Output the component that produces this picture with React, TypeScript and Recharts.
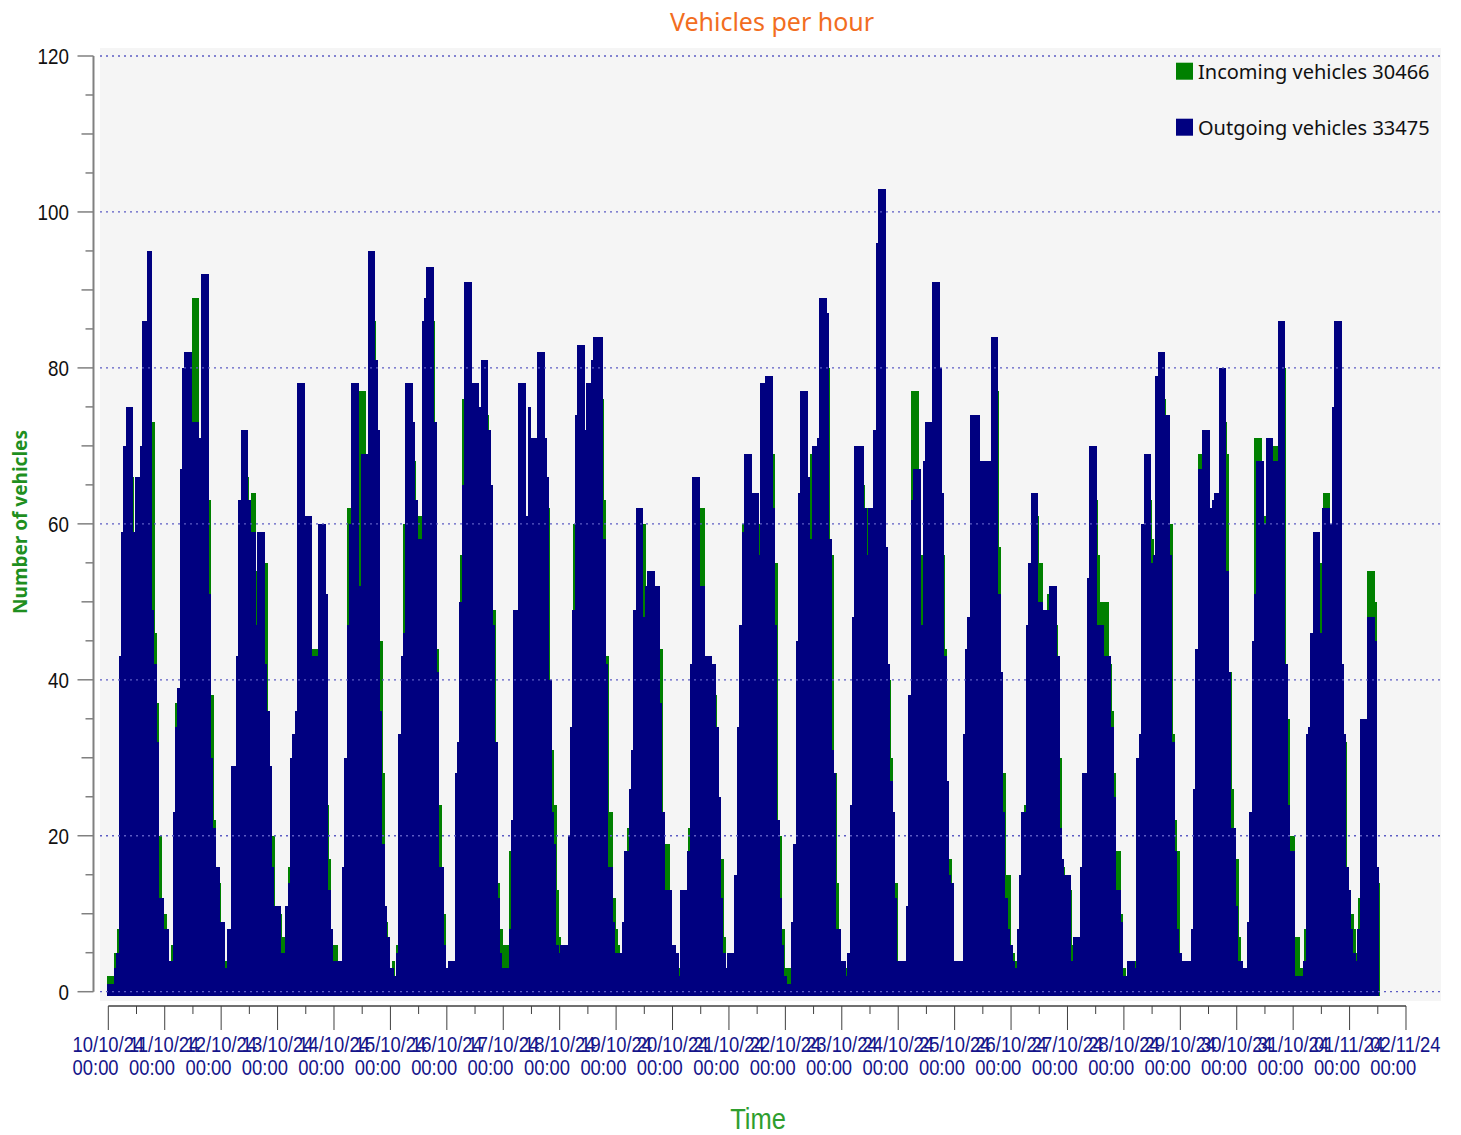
import { BarChart, Bar, XAxis, YAxis, ReferenceLine, CartesianGrid } from "recharts";

// one label per day, 00:00 of each day
const dayLabels = [
  "10/10/24", "11/10/24", "12/10/24", "13/10/24", "14/10/24", "15/10/24",
  "16/10/24", "17/10/24", "18/10/24", "19/10/24", "20/10/24", "21/10/24",
  "22/10/24", "23/10/24", "24/10/24", "25/10/24", "26/10/24", "27/10/24",
  "28/10/24", "29/10/24", "30/10/24", "31/10/24", "01/11/24", "02/11/24",
];

// hourly values, one row per day (last day ends at 12:00)
const outgoing = [
  1, 1, 1, 3, 5, 43, 59, 70, 75, 75, 75, 59, 66, 66, 70, 86, 86, 95, 95, 49, 42, 32, 12, 12,
  8, 8, 4, 4, 23, 34, 39, 67, 80, 82, 82, 82, 73, 73, 73, 71, 92, 92, 92, 51, 30, 21, 16, 16,
  9, 9, 3, 8, 8, 29, 29, 43, 63, 72, 72, 72, 63, 59, 59, 47, 59, 59, 59, 42, 36, 29, 16, 11,
  11, 11, 5, 5, 11, 14, 30, 33, 36, 78, 78, 78, 61, 61, 61, 43, 43, 43, 60, 60, 60, 51, 13, 8,
  4, 4, 4, 4, 16, 30, 47, 60, 78, 78, 78, 52, 69, 69, 69, 95, 95, 95, 81, 72, 36, 19, 11, 7,
  3, 3, 2, 5, 33, 43, 46, 78, 78, 78, 73, 63, 58, 58, 86, 89, 93, 93, 93, 73, 41, 16, 16, 6,
  3, 4, 4, 4, 28, 32, 50, 65, 91, 91, 91, 78, 78, 78, 75, 81, 81, 81, 72, 65, 47, 32, 12, 5,
  3, 3, 3, 8, 22, 49, 49, 78, 78, 78, 61, 75, 71, 71, 71, 82, 82, 82, 71, 66, 40, 23, 19, 6,
  5, 6, 6, 6, 20, 34, 49, 74, 83, 83, 83, 72, 78, 78, 81, 84, 84, 84, 84, 58, 42, 16, 16, 9,
  5, 5, 5, 9, 18, 18, 26, 31, 49, 62, 62, 62, 48, 52, 54, 54, 54, 52, 52, 37, 23, 13, 13, 13,
  6, 6, 5, 2, 13, 13, 13, 18, 42, 66, 66, 66, 52, 52, 43, 43, 43, 42, 42, 34, 25, 12, 5, 3,
  5, 5, 5, 15, 34, 47, 59, 69, 69, 69, 64, 64, 64, 56, 78, 78, 79, 79, 79, 62, 47, 22, 12, 6,
  2, 1, 1, 9, 19, 45, 64, 77, 77, 77, 66, 58, 70, 70, 71, 89, 89, 89, 87, 58, 31, 28, 8, 8,
  4, 4, 2, 5, 24, 48, 70, 70, 70, 70, 62, 56, 62, 62, 72, 96, 103, 103, 103, 57, 42, 27, 23, 12,
  4, 4, 4, 4, 11, 38, 63, 67, 67, 67, 47, 68, 73, 73, 73, 91, 91, 91, 80, 64, 43, 27, 15, 14,
  4, 4, 4, 4, 33, 44, 48, 74, 74, 74, 74, 68, 68, 68, 68, 68, 84, 84, 84, 51, 41, 23, 12, 8,
  6, 4, 3, 8, 15, 23, 23, 47, 55, 64, 64, 64, 50, 50, 49, 49, 49, 52, 52, 52, 43, 21, 17, 15,
  15, 15, 4, 7, 7, 7, 16, 28, 28, 53, 70, 70, 70, 47, 47, 47, 43, 43, 43, 34, 25, 13, 13, 9,
  2, 2, 4, 4, 4, 3, 30, 33, 60, 69, 69, 69, 55, 56, 79, 82, 82, 82, 74, 74, 56, 32, 18, 8,
  5, 4, 4, 4, 4, 8, 26, 44, 67, 67, 72, 72, 72, 62, 63, 64, 64, 80, 80, 80, 54, 41, 21, 21,
  11, 4, 4, 3, 3, 9, 23, 45, 51, 68, 68, 68, 60, 71, 71, 71, 68, 68, 86, 86, 86, 42, 24, 18,
  18, 2, 2, 2, 2, 4, 33, 34, 46, 59, 59, 59, 46, 62, 62, 62, 60, 75, 86, 86, 86, 42, 33, 16,
  13, 8, 5, 4, 8, 35, 35, 35, 48, 48, 48, 45, 16,
];

const incoming = [
  2, 2, 2, 5, 8, 38, 55, 63, 68, 70, 66, 55, 60, 61, 64, 78, 80, 85, 88, 73, 46, 37, 20, 10,
  10, 7, 4, 6, 20, 37, 36, 60, 72, 75, 76, 80, 89, 89, 89, 68, 84, 86, 88, 63, 38, 22, 14, 14,
  8, 8, 4, 6, 7, 26, 27, 40, 58, 66, 68, 66, 60, 64, 64, 54, 55, 56, 57, 55, 34, 26, 20, 10,
  10, 10, 7, 7, 10, 16, 27, 30, 33, 70, 72, 74, 56, 57, 55, 44, 44, 44, 56, 55, 57, 24, 17, 8,
  6, 6, 3, 3, 14, 27, 62, 62, 70, 72, 70, 77, 77, 77, 64, 85, 88, 86, 75, 65, 45, 28, 9, 6,
  3, 4, 2, 6, 30, 40, 60, 70, 72, 74, 68, 58, 61, 61, 78, 82, 85, 87, 86, 66, 44, 24, 14, 10,
  2, 3, 3, 4, 25, 29, 56, 76, 82, 84, 85, 72, 74, 75, 70, 74, 76, 74, 68, 65, 49, 27, 14, 8,
  6, 6, 6, 18, 20, 45, 46, 70, 72, 71, 58, 66, 68, 66, 65, 75, 77, 76, 71, 62, 31, 31, 24, 13,
  7, 5, 5, 5, 10, 30, 60, 73, 76, 78, 80, 68, 72, 74, 75, 78, 80, 79, 76, 63, 43, 23, 23, 12,
  8, 6, 5, 7, 16, 21, 21, 28, 45, 56, 57, 58, 60, 50, 50, 51, 50, 49, 48, 44, 21, 19, 19, 11,
  5, 5, 4, 3, 11, 12, 12, 21, 38, 60, 61, 62, 62, 62, 43, 42, 41, 40, 38, 30, 22, 17, 7, 3,
  4, 4, 5, 12, 30, 43, 60, 62, 64, 63, 58, 60, 59, 60, 72, 74, 73, 75, 74, 69, 55, 20, 20, 8,
  3, 3, 3, 6, 16, 40, 58, 70, 71, 72, 62, 69, 66, 64, 65, 80, 82, 84, 80, 56, 56, 28, 14, 8,
  3, 4, 3, 5, 22, 45, 70, 64, 66, 65, 58, 62, 58, 57, 66, 88, 92, 95, 94, 57, 40, 30, 21, 14,
  4, 3, 4, 4, 10, 38, 77, 77, 77, 60, 56, 62, 66, 67, 68, 82, 84, 86, 74, 56, 44, 27, 17, 12,
  4, 4, 3, 4, 30, 40, 48, 66, 67, 68, 70, 62, 63, 62, 64, 63, 76, 78, 77, 57, 32, 28, 15, 15,
  6, 5, 4, 7, 14, 20, 24, 42, 50, 58, 60, 61, 55, 55, 46, 47, 51, 48, 49, 47, 43, 30, 16, 14,
  14, 13, 6, 6, 6, 7, 14, 25, 26, 48, 62, 64, 63, 56, 50, 50, 50, 50, 42, 36, 28, 18, 18, 10,
  3, 2, 3, 4, 4, 4, 26, 30, 58, 62, 64, 63, 58, 56, 72, 75, 77, 76, 70, 70, 60, 33, 22, 18,
  4, 4, 3, 4, 4, 7, 24, 40, 69, 69, 66, 67, 66, 58, 60, 59, 60, 72, 74, 73, 69, 41, 26, 17,
  17, 7, 3, 3, 3, 6, 22, 41, 71, 71, 71, 64, 61, 66, 65, 64, 70, 70, 78, 79, 80, 40, 35, 20,
  20, 7, 7, 3, 3, 8, 30, 32, 42, 54, 56, 55, 55, 64, 64, 64, 56, 70, 80, 81, 78, 40, 32, 16,
  13, 10, 8, 5, 12, 30, 32, 33, 54, 54, 54, 50, 14,
];

const incomingTotal = 30466;
const outgoingTotal = 33475;

const yTicks = [0, 5, 10, 15, 20, 25, 30, 35, 40, 45, 50, 55, 60, 65, 70, 75, 80, 85, 90, 95, 100, 105, 110, 115, 120];
const gridLines = [0, 20, 40, 60, 80, 100, 120];

const series = [
  { key: "incoming", name: "Incoming vehicles", total: incomingTotal, color: "#008000" },
  { key: "outgoing", name: "Outgoing vehicles", total: outgoingTotal, color: "#000080" },
];

const data = outgoing.map((v, i) => ({ hour: i, incoming: incoming[i], outgoing: v }));

// major tick every day, minor tick at noon
const lastHour = (dayLabels.length - 1) * 24;
const xTicks: number[] = [];
for (let h = 0; h <= lastHour; h += 12) xTicks.push(h);

// axis extents (data units) so the frame lines up with the plot background
const X_MIN = -3.531;
const X_MAX = 566.888;
const Y_MIN = -1.193;
const Y_MAX = 121.026;
const Y_AXIS_AT = -6.3;   // hour value where the vertical axis line sits
const X_AXIS_AT = -1.834; // value where the horizontal axis line sits
const BAR_FLOOR = -0.55;  // bars hang a little below the zero line

const W = 1461;
const H = 1135;

const tickFont = "'Liberation Sans', Arial, sans-serif";
const squeeze = 0.855;

function XTick({ x, y, payload }: any) {
  const h = payload.value as number;
  const major = h % 24 === 0;
  return (
    <g>
      <line x1={x} x2={x} y1={y + 5} y2={y + (major ? 29 : 13)} stroke="#404040" strokeWidth={1} />
      {major && (
        <text
          transform={`translate(${x - 35.7} ${y}) scale(${squeeze} 1)`}
          fontFamily={tickFont}
          fontSize={21.5}
          fill="#15158a"
        >
          <tspan x={0} y={50.7}>{dayLabels[h / 24]}</tspan>
          <tspan x={0} y={73.7}>00:00</tspan>
        </text>
      )}
    </g>
  );
}

function YTick({ x, y, payload }: any) {
  const v = payload.value as number;
  const len = v % 20 === 0 ? 16 : v % 10 === 0 ? 12 : 8;
  const axisX = x - 6.5;
  return (
    <g>
      <line x1={axisX - len} x2={axisX} y1={y} y2={y} stroke="#808080" strokeWidth={1.5} />
      {v % 20 === 0 && (
        <text
          transform={`translate(69 ${y + 7.9}) scale(${squeeze} 1)`}
          textAnchor="end"
          fontFamily={tickFont}
          fontSize={22}
          fill="#111"
        >
          {v}
        </text>
      )}
    </g>
  );
}

function BarShape(props: any) {
  const { x, y, width, height, fill } = props;
  if (!height || height <= 0) return null;
  return <rect x={x} y={y} width={width + 1} height={height} fill={fill} shapeRendering="crispEdges" />;
}

export default function App() {
  return (
    <div style={{ position: "absolute", left: 0, top: 0, width: W, height: H, background: "#fff" }}>
      <BarChart
        width={W}
        height={H}
        data={data}
        margin={{ top: 48, right: 20, bottom: 0, left: 0 }}
        barGap="-100%"
        barCategoryGap={0}
      >
        <CartesianGrid horizontal={false} vertical={false} fill="#f5f5f5" stroke="none" />
        {gridLines.map((v) => (
          <ReferenceLine key={v} y={v} stroke="#5c5cc4" strokeDasharray="2 4" strokeWidth={1.3} />
        ))}
        <XAxis
          type="number"
          dataKey="hour"
          domain={[X_MIN, X_MAX]}
          allowDataOverflow
          ticks={xTicks}
          interval={0}
          tickSize={0}
          tickMargin={0}
          axisLine={false}
          tickLine={false}
          tick={<XTick />}
          height={134}
        />
        <YAxis
          type="number"
          domain={[Y_MIN, Y_MAX]}
          allowDataOverflow
          ticks={yTicks}
          interval={0}
          tickSize={0}
          tickMargin={0}
          axisLine={false}
          tickLine={false}
          tick={<YTick />}
          width={100}
        />
        {series.map((s) => (
          <Bar
            key={s.key}
            name={s.name}
            dataKey={(d: any) => [BAR_FLOOR, d[s.key]]}
            fill={s.color}
            isAnimationActive={false}
            shape={<BarShape />}
          />
        ))}
        <ReferenceLine
          segment={[{ x: Y_AXIS_AT, y: 0 }, { x: Y_AXIS_AT, y: 120 }]}
          ifOverflow="visible"
          stroke="#808080"
          strokeWidth={2}
        />
        <ReferenceLine
          segment={[{ x: 0, y: X_AXIS_AT }, { x: lastHour, y: X_AXIS_AT }]}
          ifOverflow="visible"
          stroke="#404040"
          strokeWidth={1.5}
        />
      </BarChart>

      {/* titles and legend */}
      <svg width={W} height={H} style={{ position: "absolute", left: 0, top: 0, pointerEvents: "none" }}>
        <text x={772} y={31} textAnchor="middle" fontFamily="'Noto Sans', sans-serif" fontSize={25} fill="#f26d21">
          Vehicles per hour
        </text>
        <text
          transform="translate(27 522) rotate(-90)"
          textAnchor="middle"
          fontFamily="'Noto Sans', sans-serif"
          fontWeight="bold"
          fontSize={19}
          fill="#1f8f1f"
        >
          Number of vehicles
        </text>
        <text
          transform={`translate(758 1129) scale(0.88 1)`}
          textAnchor="middle"
          fontFamily={tickFont}
          fontSize={29}
          fill="#2e9e2e"
        >
          Time
        </text>
        {series.map((s, i) => (
          <g key={s.key}>
            <rect x={1176} y={62.7 + i * 56} width={17} height={17} fill={s.color} />
            <text x={1198} y={79.3 + i * 56} fontFamily="'Noto Sans', sans-serif" fontSize={20} fill="#111">
              {`${s.name} ${s.total}`}
            </text>
          </g>
        ))}
      </svg>
    </div>
  );
}
